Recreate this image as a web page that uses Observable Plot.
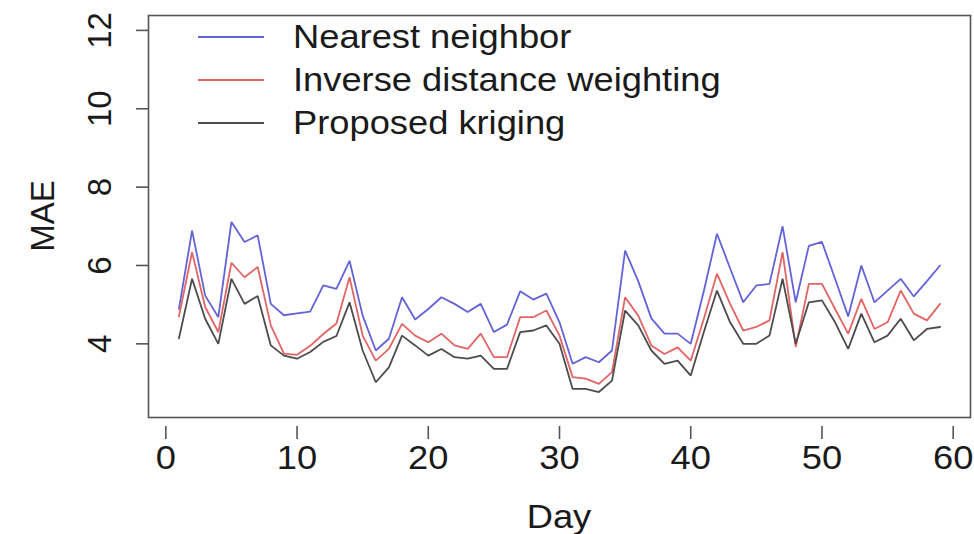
<!DOCTYPE html>
<html><head><meta charset="utf-8">
<script src="https://cdn.jsdelivr.net/npm/d3@7"></script>
<script src="https://cdn.jsdelivr.net/npm/@observablehq/plot@0.6"></script>
<style>body{margin:0;background:#fff;} #chart svg{display:block;}</style>
</head><body><div id="chart"></div>
<script>
const days = d3.range(1, 60);
const nearestNeighbor = [4.89,6.89,5.23,4.68,7.11,6.60,6.77,5.02,4.73,4.78,4.82,5.49,5.40,6.12,4.72,3.83,4.13,5.19,4.62,4.89,5.19,5.02,4.81,5.02,4.30,4.49,5.34,5.13,5.28,4.55,3.49,3.66,3.53,3.83,6.38,5.60,4.65,4.26,4.26,4.00,5.35,6.81,5.93,5.06,5.49,5.53,7.00,5.06,6.50,6.60,5.66,4.70,6.00,5.06,5.36,5.66,5.21,5.60,6.00];
const inverseDistance = [4.70,6.34,4.94,4.30,6.07,5.70,5.96,4.47,3.75,3.72,3.95,4.25,4.52,5.70,4.21,3.57,3.87,4.51,4.21,4.04,4.26,3.96,3.87,4.26,3.66,3.66,4.68,4.68,4.85,4.21,3.15,3.11,2.98,3.28,5.19,4.72,3.96,3.74,3.91,3.57,4.64,5.79,5.02,4.34,4.43,4.60,6.34,3.92,5.53,5.53,4.89,4.26,5.15,4.38,4.55,5.36,4.77,4.60,5.02];
const proposedKriging = [4.14,5.66,4.64,4.00,5.66,5.02,5.22,3.96,3.70,3.62,3.79,4.05,4.20,5.06,3.83,3.02,3.40,4.21,3.96,3.70,3.87,3.66,3.62,3.70,3.36,3.36,4.30,4.34,4.47,4.00,2.85,2.85,2.77,3.06,4.85,4.47,3.83,3.49,3.57,3.19,4.30,5.36,4.55,4.00,4.00,4.21,5.66,4.00,5.06,5.11,4.55,3.87,4.77,4.04,4.21,4.64,4.09,4.38,4.43];
const seriesNames = ["Nearest neighbor", "Inverse distance weighting", "Proposed kriging"];
const seriesColors = ["#6363d8", "#e26464", "#4c4c4c"];
const xTicks = [0, 10, 20, 30, 40, 50, 60];
const yTicks = [4, 6, 8, 10, 12];

const seriesValues = [nearestNeighbor, inverseDistance, proposedKriging];
const rows = [];
seriesNames.forEach((name, k) => {
  days.forEach((d, i) => rows.push({day: d, mae: seriesValues[k][i], series: name}));
});

const font = "'Liberation Sans', Arial, Helvetica, sans-serif";
const stretch = 1.1;
const chart = Plot.plot({
  width: 974,
  height: 534,
  marginLeft: 148,
  marginRight: 4,
  marginTop: 15,
  marginBottom: 117,
  style: {fontFamily: font, fontSize: "33px", background: "#fff", color: "#1a1a1a", overflow: "visible"},
  x: {domain: [-1.32, 61.32]},
  y: {domain: [2.12, 12.38]},
  color: {domain: seriesNames, range: seriesColors},
  marks: [
    Plot.frame({stroke: "#555", strokeWidth: 1.6}),
    Plot.axisY(yTicks, {tickSize: 12, tickFormat: () => "", label: null, stroke: "#555", strokeWidth: 1.6}),
    Plot.text(yTicks, {y: d => d, text: d => String(d), frameAnchor: "left", textAnchor: "middle", dx: -48, rotate: -90, fontSize: 33, fill: "#1a1a1a"}),
    Plot.axisX(xTicks, {tickSize: 13, dy: 9, tickPadding: 6, fontSize: 33, label: null, stroke: "#555", strokeWidth: 1.6, fill: "#1a1a1a"}),
    Plot.line(rows, {x: "day", y: "mae", z: "series", stroke: "series", strokeWidth: 1.8, strokeLinejoin: "miter"})
  ]
});

const svg = d3.select(chart);
// horizontally widen x tick labels (about their own anchor) to match the reference glyph proportions
svg.selectAll("g[aria-label='x-axis tick label'] text").each(function() {
  const el = d3.select(this);
  const t = el.attr("transform") || "";
  const x = parseFloat(el.attr("x")) || 0;
  el.attr("transform", `${t} translate(${x},0) scale(${stretch},1) translate(${-x},0)`);
});
// axis titles
svg.append("text").attr("transform", `translate(${(148 + 970) / 2},517) scale(${stretch},1)`).attr("text-anchor", "middle")
  .attr("dominant-baseline", "central").attr("font-size", 33).attr("font-family", font).attr("fill", "#1a1a1a").text("Day");
svg.append("text").attr("transform", `translate(42,216) rotate(-90)`).attr("text-anchor", "middle")
  .attr("dominant-baseline", "central").attr("font-size", 33).attr("font-family", font).attr("fill", "#1a1a1a").text("MAE");
// legend
const lg = svg.append("g");
seriesNames.forEach((name, i) => {
  const y = 37 + 43 * i;
  lg.append("line").attr("x1", 198).attr("x2", 264).attr("y1", y).attr("y2", y)
    .attr("stroke", seriesColors[i]).attr("stroke-width", 1.8);
  lg.append("text").attr("transform", `translate(293,${y}) scale(${stretch},1)`).attr("text-anchor", "start")
    .attr("dominant-baseline", "central")
    .attr("font-size", 33).attr("font-family", font).attr("fill", "#1a1a1a").text(name);
});
document.getElementById("chart").appendChild(chart);
</script>
</body></html>
